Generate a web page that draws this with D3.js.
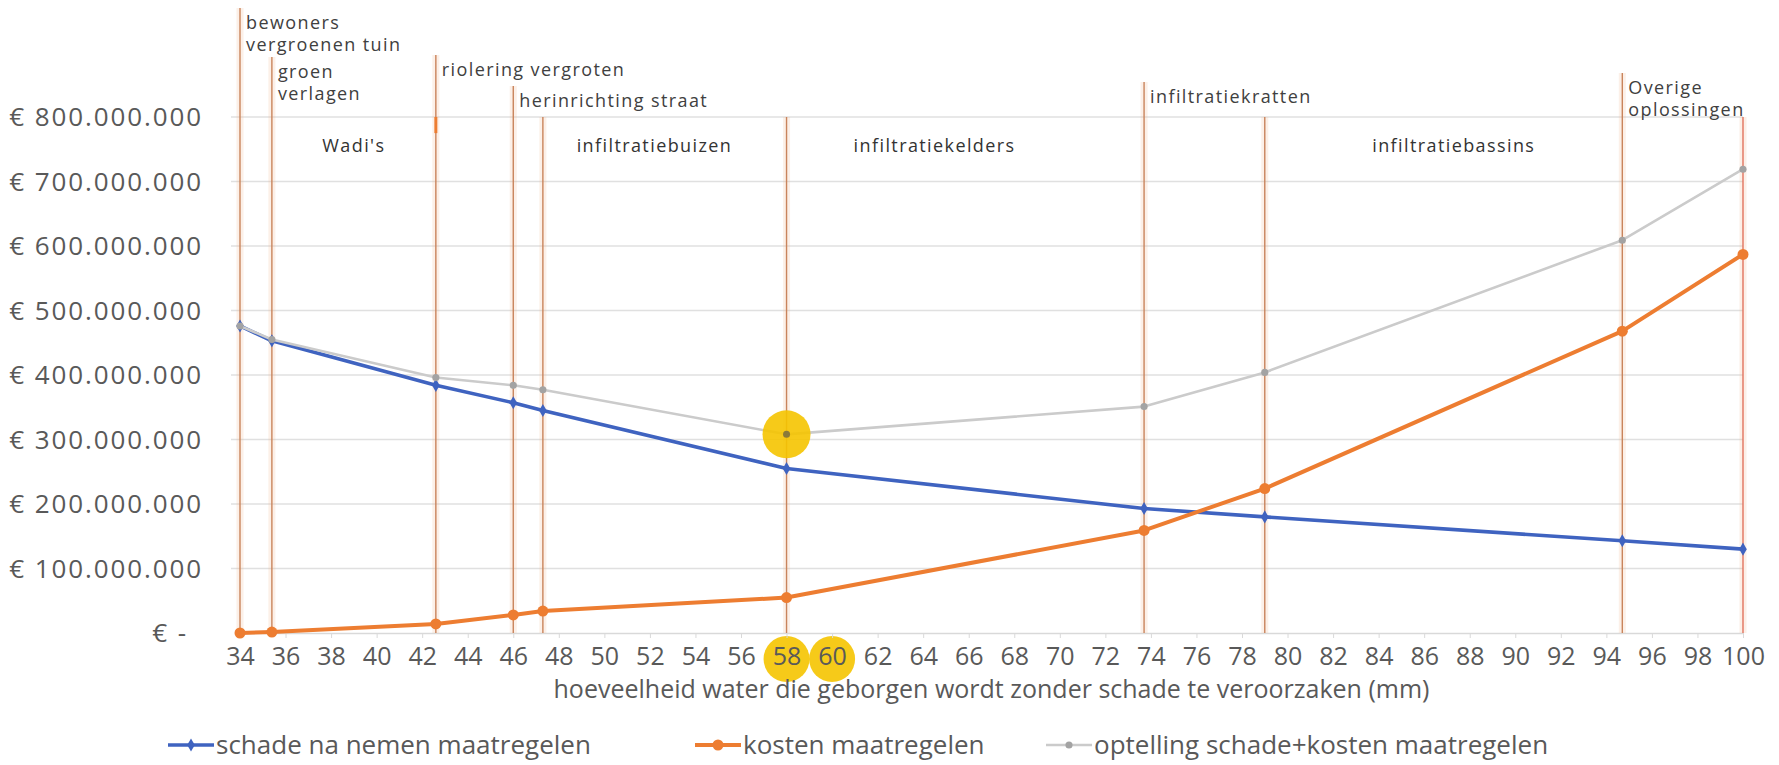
<!DOCTYPE html>
<html>
<head>
<meta charset="utf-8">
<script src="https://cdn.jsdelivr.net/npm/d3@7"></script>
<style>
  body { margin: 0; background: #fff; }
  svg { display: block; font-family: "Open Sans", sans-serif; }
</style>
</head>
<body>
<svg id="chart"></svg>
<script>
// hoeveelheid water (mm) waarbij een maatregel ingaat
const mm = [34, 35.4, 42.6, 46, 47.3, 58, 73.7, 79, 94.7, 100]
// bedragen in miljoenen euro
const schade    = [476, 453, 384, 357, 345, 255, 193, 180, 143, 130]
const kosten    = [0, 1.5, 14, 28, 34, 55, 159, 224, 468, 587]
const optelling = [476, 455, 396, 384, 377, 308, 351, 404, 609, 719]

const xTicks = [34, 36, 38, 40, 42, 44, 46, 48, 50, 52, 54, 56, 58, 60, 62, 64, 66,
                68, 70, 72, 74, 76, 78, 80, 82, 84, 86, 88, 90, 92, 94, 96, 98, 100]
const yTicks = [0, 100, 200, 300, 400, 500, 600, 700, 800]

const maatregelen = [["bewoners", "vergroenen tuin"], ["groen", "verlagen"], ["riolering vergroten"],
                     ["herinrichting straat"], [], [], ["infiltratiekratten"], [], ["Overige", "oplossingen"], []]
const gebieden   = ["Wadi's", "infiltratiebuizen", "infiltratiekelders", "infiltratiebassins"]
const gebiedenMm = [39, 52.2, 64.5, 87.3]

const optimumMm = 58
const optimumTicks = [58, 60]

const seriesNames = ["schade na nemen maatregelen", "kosten maatregelen", "optelling schade+kosten maatregelen"]

// layout
const width = 1779, height = 765
const margin = {top: 117, right: 36, bottom: 132, left: 240}
// how far each marker line rises above the plot (px)
const lineRise = [109, 60, 62, 31, 0, 0, 35, 0, 44, 0]

const svg = d3.select("#chart")
    .attr("width", width)
    .attr("height", height)
    .attr("viewBox", `0 0 ${width} ${height}`)

const x = d3.scaleLinear().domain([34, 100]).range([margin.left, width - margin.right])
const y = d3.scaleLinear().domain([0, 800]).range([height - margin.bottom, margin.top])

const nl = d3.formatLocale({decimal: ",", thousands: ".", grouping: [3], currency: ["€ ", ""]})
const euro = v => v === 0 ? "€ -" : nl.format("$,.0f")(v * 1e6)

// gridlines
svg.append("g")
  .selectAll("line")
  .data(yTicks.filter(d => d > 0))
  .join("line")
    .attr("x1", x(34) - 9).attr("x2", x(100))
    .attr("y1", d => y(d)).attr("y2", d => y(d))
    .attr("stroke", "#e0e0e0")
    .attr("stroke-width", 1.3)

// y labels
svg.append("g")
    .attr("font-size", 26)
    .attr("fill", "#595959")
  .selectAll("text")
  .data(yTicks)
  .join("text")
    .attr("x", d => d === 0 ? 188 : 203)
    .attr("y", d => y(d))
    .attr("dy", "0.35em")
    .attr("text-anchor", "end")
    .attr("letter-spacing", 1.9)
    .text(euro)

// yellow circles behind 58 and 60
svg.append("g")
  .selectAll("circle")
  .data(optimumTicks)
  .join("circle")
    .attr("cx", d => x(d))
    .attr("cy", y(0) + 26)
    .attr("r", 23)
    .attr("fill", "#f5c400")
    .attr("opacity", 0.9)

// x axis
svg.append("g")
    .attr("transform", `translate(0,${y(0)})`)
    .call(d3.axisBottom(x).tickValues(xTicks).tickSize(5).tickSizeOuter(0).tickPadding(9).tickFormat(d3.format("d")))
    .attr("font-family", null)
    .attr("font-size", 25)
    .call(g => g.select(".domain").attr("stroke", "#d9d9d9").attr("stroke-width", 1.3))
    .call(g => g.selectAll(".tick line").attr("stroke", "#d9d9d9"))
    .call(g => g.selectAll(".tick text").attr("fill", "#595959"))

svg.append("text")
    .attr("x", (x(34) + x(100)) / 2)
    .attr("y", y(0) + 56)
    .attr("dy", "0.35em")
    .attr("text-anchor", "middle")
    .attr("font-size", 25)
    .attr("fill", "#595959")
    .text("hoeveelheid water die geborgen wordt zonder schade te veroorzaken (mm)")

// marker lines for the measures
const markers = svg.append("g")
  .selectAll("g")
  .data(mm)
  .join("g")

markers.append("line")
    .attr("x1", d => x(d)).attr("x2", d => x(d))
    .attr("y1", (d, i) => margin.top - lineRise[i]).attr("y2", y(0))
    .attr("stroke", "#f4b183")
    .attr("stroke-width", 7)
    .attr("opacity", 0.18)
markers.append("line")
    .attr("x1", d => x(d)).attr("x2", d => x(d))
    .attr("y1", (d, i) => margin.top - lineRise[i]).attr("y2", y(0))
    .attr("stroke", (d, i) => i === mm.length - 1 ? "#e2735f" : "#c9845c")
    .attr("stroke-width", 1.4)

// little thick piece on the riolering line
svg.append("line")
    .attr("x1", x(mm[2])).attr("x2", x(mm[2]))
    .attr("y1", y(800)).attr("y2", y(775))
    .attr("stroke", "#ed7d31")
    .attr("stroke-width", 3)

markers.append("text")
    .attr("font-size", 18)
    .attr("letter-spacing", 1.4)
    .attr("fill", "#404040")
  .selectAll("tspan")
  .data((d, i) => maatregelen[i].map(t => ({t, x: x(d), top: margin.top - lineRise[i]})))
  .join("tspan")
    .attr("x", d => d.x + 6)
    .attr("y", (d, j) => d.top + 15 + j * 22)
    .attr("dy", "0.35em")
    .text(d => d.t)

svg.append("g")
    .attr("font-size", 18)
    .attr("letter-spacing", 1.4)
    .attr("fill", "#333")
  .selectAll("text")
  .data(gebieden)
  .join("text")
    .attr("x", (d, i) => x(gebiedenMm[i]))
    .attr("y", y(755))
    .attr("dy", "0.35em")
    .attr("text-anchor", "middle")
    .text(d => d)

// series
const series = [
  {name: seriesNames[0], values: schade,    color: "#3f63c0", width: 3.6, symbol: d3.symbolDiamond, size: 50},
  {name: seriesNames[1], values: kosten,    color: "#ed7d31", width: 4,   symbol: d3.symbolCircle,  size: 95},
  {name: seriesNames[2], values: optelling, color: "#cbcbcb", width: 2.6, symbol: d3.symbolCircle,  size: 40, marker: "#a3a3a3"}
]

const line = d3.line()
    .x((d, i) => x(mm[i]))
    .y(d => y(d))

const seriesG = svg.append("g")
  .selectAll("g")
  .data(series)
  .join("g")

seriesG.append("path")
    .attr("d", d => line(d.values))
    .attr("fill", "none")
    .attr("stroke", d => d.color)
    .attr("stroke-width", d => d.width)
    .attr("stroke-linejoin", "round")

seriesG.selectAll("path.dot")
  .data(d => d.values.map((v, i) => ({v, i, s: d})))
  .join("path")
    .attr("class", "dot")
    .attr("transform", d => `translate(${x(mm[d.i])},${y(d.v)})`)
    .attr("d", d => d3.symbol(d.s.symbol, d.s.size)())
    .attr("fill", d => d.s.marker || d.s.color)

// optimum highlight
const optIdx = mm.indexOf(optimumMm)
svg.append("circle")
    .attr("cx", x(optimumMm))
    .attr("cy", y(optelling[optIdx]))
    .attr("r", 24)
    .attr("fill", "#f5c400")
    .attr("opacity", 0.9)
svg.append("circle")
    .attr("cx", x(optimumMm))
    .attr("cy", y(optelling[optIdx]))
    .attr("r", 3.5)
    .attr("fill", "#8a7a3a")

// legend
const legendX = [168, 695, 1046]
const legend = svg.append("g")
  .selectAll("g")
  .data(series)
  .join("g")
    .attr("transform", (d, i) => `translate(${legendX[i]},745)`)

legend.append("line")
    .attr("x1", 0).attr("x2", 46)
    .attr("stroke", d => d.color)
    .attr("stroke-width", d => d.width)
legend.append("path")
    .attr("transform", "translate(23,0)")
    .attr("d", d => d3.symbol(d.symbol, d.size)())
    .attr("fill", d => d.marker || d.color)
legend.append("text")
    .attr("x", 48)
    .attr("dy", "0.35em")
    .attr("font-size", 26)
    .attr("fill", "#595959")
    .text(d => d.name)
</script>
</body>
</html>
